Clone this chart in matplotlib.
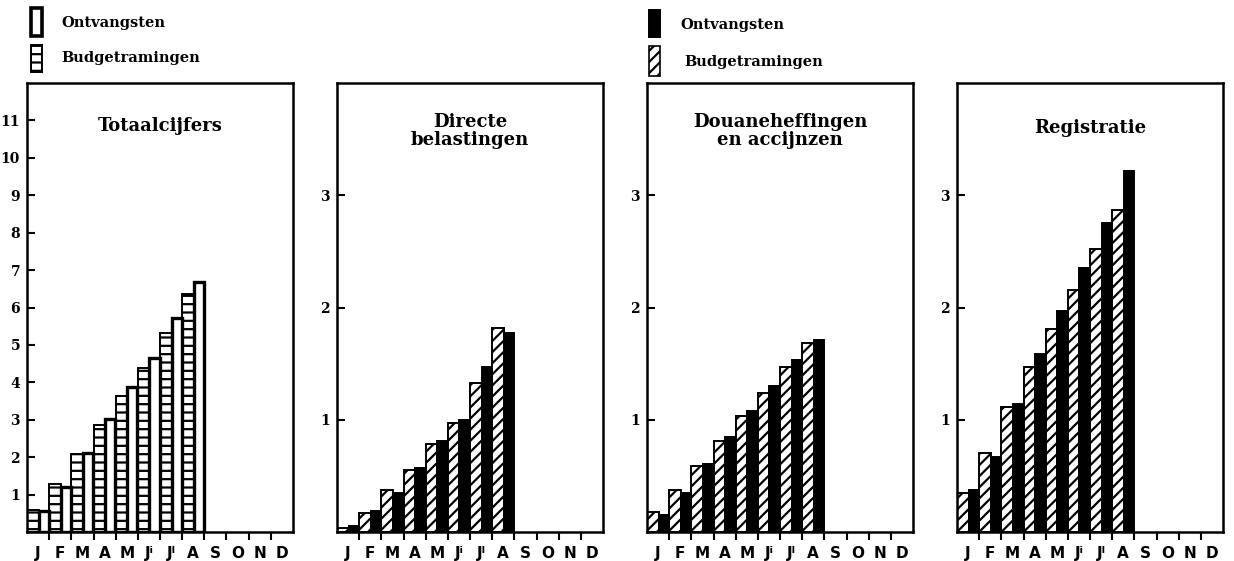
import matplotlib
matplotlib.use("Agg")
import matplotlib.pyplot as plt
from matplotlib.patches import Rectangle
from matplotlib.transforms import blended_transform_factory
import numpy as np

plt.rcParams['hatch.linewidth'] = 1.6

months = ["J", "F", "M", "A", "M", "J\u2071", "J\u02e1", "A", "S", "O", "N", "D"]

titles = ["Totaalcijfers", "Directe\nbelastingen", "Douaneheffingen\nen accijnzen", "Registratie"]

tot_budget = [0.60, 1.29, 2.08, 2.86, 3.63, 4.37, 5.33, 6.36]
tot_actual = [0.57, 1.20, 2.12, 3.02, 3.87, 4.64, 5.71, 6.67]

dir_budget = [0.04, 0.17, 0.37, 0.55, 0.78, 0.97, 1.33, 1.82]
dir_actual = [0.05, 0.19, 0.35, 0.57, 0.81, 1.00, 1.47, 1.77]

dou_budget = [0.18, 0.37, 0.585, 0.81, 1.03, 1.24, 1.47, 1.68]
dou_actual = [0.15, 0.35, 0.61, 0.85, 1.08, 1.30, 1.53, 1.71]

reg_budget = [0.35, 0.70, 1.11, 1.47, 1.81, 2.16, 2.52, 2.87]
reg_actual = [0.37, 0.67, 1.14, 1.585, 1.97, 2.35, 2.75, 3.22]

y_max = [12, 4, 4, 4]
y_ticks = [list(range(1, 12)), [1, 2, 3], [1, 2, 3], [1, 2, 3]]

legend_labels = ["Ontvangsten", "Budgetramingen"]

W, H = 1234, 561
fig = plt.figure(figsize=(W / 100, H / 100), dpi=100)

lefts = [27, 337, 647, 957]
rights = [293, 603, 913, 1223]
top_px, bot_px = 83, 532
ax_h = bot_px - top_px

serif = ["DejaVu Serif"]
series = [(tot_budget, tot_actual), (dir_budget, dir_actual),
          (dou_budget, dou_actual), (reg_budget, reg_actual)]
title_y = [0.905, 0.893, 0.893, 0.900]

for i in range(4):
    ax = fig.add_axes([lefts[i] / W, 1 - bot_px / H,
                       (rights[i] - lefts[i]) / W, ax_h / H])
    budget, actual = series[i]
    x = np.arange(len(budget))
    if i == 0:
        ax.bar(x, budget, width=0.52, align='edge', color='white',
               edgecolor='black', hatch='--', linewidth=1.4)
        ax.bar(x + 0.52, actual, width=0.46, align='edge', color='white',
               edgecolor='black', linewidth=2.4)
    else:
        ax.bar(x, budget, width=0.52, align='edge', color='white',
               edgecolor='black', hatch='///', linewidth=1.4)
        ax.bar(x + 0.52, actual, width=0.46, align='edge', color='black',
               edgecolor='black', linewidth=1.4)
    ax.set_xlim(0, 12)
    ax.set_ylim(0, y_max[i])
    for s in ax.spines.values():
        s.set_linewidth(1.8)
    ax.set_yticks(y_ticks[i])
    ax.set_yticklabels([str(v) for v in y_ticks[i]], fontsize=10,
                       fontweight='bold', family=serif)
    ax.tick_params(axis='y', direction='in', length=6, width=1.5, pad=5)
    ax.set_xticks([])
    ax.set_xticks(np.arange(1, 12), minor=True)
    ax.tick_params(axis='x', which='minor', direction='out', length=6, width=1.5)
    trans = blended_transform_factory(ax.transData, ax.transAxes)
    for k, m in enumerate(months):
        ax.text(k + 0.5, -(558 - bot_px) / ax_h, m, transform=trans, ha='center',
                va='baseline', fontsize=11, fontweight='bold', family=["DejaVu Sans"])
    ax.text(0.5, title_y[i], titles[i], transform=ax.transAxes, ha='center', va='center',
            fontsize=13, fontweight='bold', family=serif, linespacing=1.05)

# legends
def px_rect(x0, y0, x1, y1, **kw):
    r = Rectangle((x0 / W, 1 - y1 / H), (x1 - x0) / W, (y1 - y0) / H,
                  transform=fig.transFigure, **kw)
    fig.add_artist(r)

px_rect(31, 8, 42, 36, facecolor='white', edgecolor='black', linewidth=2.6)
px_rect(31, 45, 42, 72, facecolor='white', edgecolor='black', linewidth=1.4, hatch='--')
fig.text(61 / W, 1 - 23 / H, legend_labels[0], fontsize=10.5, fontweight='bold',
         family=serif, va='center', ha='left')
fig.text(61 / W, 1 - 58 / H, legend_labels[1], fontsize=10.5, fontweight='bold',
         family=serif, va='center', ha='left')

px_rect(649, 10, 660, 37, facecolor='black', edgecolor='black', linewidth=1.4)
px_rect(649, 46, 660, 76, facecolor='white', edgecolor='black', linewidth=1.2, hatch='///')
fig.text(680 / W, 1 - 25 / H, legend_labels[0], fontsize=10.5, fontweight='bold',
         family=serif, va='center', ha='left')
fig.text(684 / W, 1 - 62 / H, legend_labels[1], fontsize=10.5, fontweight='bold',
         family=serif, va='center', ha='left')

fig.savefig("out.png", dpi=100)
